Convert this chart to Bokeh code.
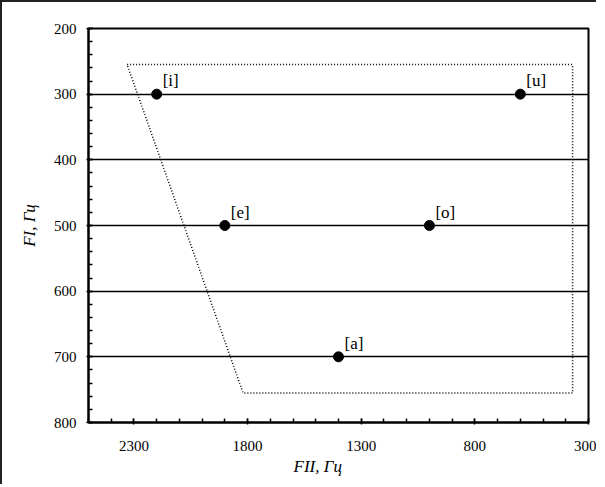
from bokeh.plotting import figure
from bokeh.models import Range1d, FixedTicker, ColumnDataSource, LabelSet, Title
from bokeh.embed import file_html
from bokeh.resources import INLINE

# data
vowels = ["[i]", "[u]", "[e]", "[o]", "[a]"]
f2_values = [2200, 600, 1900, 1000, 1400]
f1_values = [300, 300, 500, 500, 700]
area_f2 = [2330, 370, 370, 1820, 2330]
area_f1 = [255, 255, 755, 755, 255]
x_ticks = [2300, 1800, 1300, 800, 300]
y_ticks = [200, 300, 400, 500, 600, 700, 800]

FONT = "Liberation Serif"

p = figure(width=596, height=484, output_backend="svg", toolbar_location=None,
           x_range=Range1d(2500, 300), y_range=Range1d(800, 200),
           min_border_left=86, min_border_right=10, min_border_top=26, min_border_bottom=64)
p.styles = {"border-left": "2px solid #222", "border-top": "2px solid #222"}

p.outline_line_color = "black"
p.outline_line_width = 2
p.xgrid.visible = False
p.ygrid.grid_line_color = "black"
p.ygrid.grid_line_width = 1.6
p.ygrid.ticker = FixedTicker(ticks=y_ticks)

for ax in (p.xaxis[0], p.yaxis[0]):
    ax.axis_line_color = "black"
    ax.axis_line_width = 2
    ax.major_tick_line_color = "black"
    ax.minor_tick_line_color = "black"
    ax.major_tick_line_width = 1.5
    ax.minor_tick_line_width = 1.5
    ax.major_tick_in = 4
    ax.major_tick_out = 2
    ax.minor_tick_in = 4
    ax.minor_tick_out = 0
    ax.major_label_text_font = FONT
    ax.major_label_text_font_size = "15px"
    ax.major_label_text_font_style = "normal"
    ax.major_label_text_color = "black"
    ax.axis_label_text_font = FONT
    ax.axis_label_text_font_style = "italic"
    ax.axis_label_text_font_size = "17px"
    ax.axis_label_text_color = "black"

p.xaxis.ticker = FixedTicker(ticks=x_ticks, minor_ticks=list(range(300, 2501, 100)))
p.yaxis.ticker = FixedTicker(ticks=y_ticks, minor_ticks=list(range(200, 801, 20)))
p.xaxis.major_label_standoff = 16
p.yaxis.major_label_standoff = 10
p.yaxis.axis_label = "FI, Гц"
p.yaxis.axis_label_standoff = 12

# x axis title, slightly left of centre as in the original
p.add_layout(Title(text="FII, Гц", align="left", offset=205, standoff=2,
                   text_font=FONT, text_font_style="italic", text_font_size="17px",
                   text_color="black"), "below")

# dotted area
p.line(area_f2, area_f1, line_color="black", line_dash="1 2", line_width=1.5)

src = ColumnDataSource(dict(x=f2_values, y=f1_values, t=vowels))
p.scatter("x", "y", source=src, size=10, color="black")
p.add_layout(LabelSet(x="x", y="y", text="t", source=src, x_offset=6, y_offset=4,
                      text_font=FONT, text_font_size="17px", text_color="black"))

open("out.html", "w").write(file_html(p, INLINE))
